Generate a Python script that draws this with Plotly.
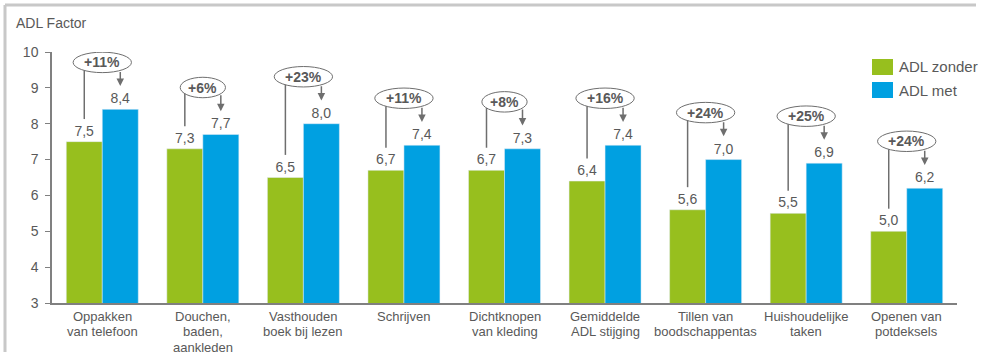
import plotly.graph_objects as go

# ---- data -------------------------------------------------------------
categories = [
    "Oppakken<br>van telefoon",
    "Douchen,<br>baden,<br>aankleden",
    "Vasthouden<br>boek bij lezen",
    "Schrijven",
    "Dichtknopen<br>van kleding",
    "Gemiddelde<br>ADL stijging",
    "Tillen van<br>boodschappentas",
    "Huishoudelijke<br>taken",
    "Openen van<br>potdeksels",
]
adl_zonder = [7.5, 7.3, 6.5, 6.7, 6.7, 6.4, 5.6, 5.5, 5.0]
adl_met = [8.4, 7.7, 8.0, 7.4, 7.3, 7.4, 7.0, 6.9, 6.2]
stijging = ["+11%", "+6%", "+23%", "+11%", "+8%", "+16%", "+24%", "+25%", "+24%"]
y_ticks = [3, 4, 5, 6, 7, 8, 9, 10]

# ---- style ------------------------------------------------------------
W, H = 981, 355
ML, MR, MT, MB = 52, 24, 52, 52
GREEN = "#97BF1E"
BLUE = "#00A0E1"
TEXT = "#595959"
AXIS = "#808080"
FRAME = "#C8C8C8"
FONT = "Liberation Sans, Arial, sans-serif"

x = list(range(len(categories)))
BAR_OFF = 0.179          # half distance between the two bar centres
Y_MIN, Y_MAX = y_ticks[0], y_ticks[-1]


def px_to_paper_x(px):
    return (px - ML) / (W - ML - MR)


def px_to_paper_y(py):
    return (H - MB - py) / (H - MT - MB)


def fmt(v):
    return f"{v:.1f}".replace(".", ",")


fig = go.Figure()
fig.add_trace(go.Bar(
    x=x, y=adl_zonder, name="ADL zonder", marker_color=GREEN,
    text=[fmt(v) for v in adl_zonder], textposition="outside",
    textfont=dict(size=14, color=TEXT, family=FONT), cliponaxis=False,
))
fig.add_trace(go.Bar(
    x=x, y=adl_met, name="ADL met", marker_color=BLUE,
    text=[fmt(v) for v in adl_met], textposition="outside",
    textfont=dict(size=14, color=TEXT, family=FONT), cliponaxis=False,
))

shapes = []
annotations = []

# percentage bubbles with connector line (left) and arrow (right)
B = 0.285  # half-height of bubble in data units
for i, (g, b, lbl) in enumerate(zip(adl_zonder, adl_met, stijging)):
    a = 0.29 if len(lbl) > 3 else 0.225
    cy = b + 1.31
    shapes.append(dict(type="circle", xref="x", yref="y",
                       x0=i - a, x1=i + a, y0=cy - B, y1=cy + B,
                       line=dict(color="#6E6E6E", width=1),
                       fillcolor="white", layer="above"))
    annotations.append(dict(x=i, y=cy, xref="x", yref="y", text=f"<b>{lbl}</b>",
                            showarrow=False,
                            font=dict(size=14, color=TEXT, family=FONT)))
    edge = B * (1 - (BAR_OFF / a) ** 2) ** 0.5
    # line from the green value up to the bubble
    shapes.append(dict(type="line", xref="x", yref="y",
                       x0=i - BAR_OFF, x1=i - BAR_OFF, y0=g + 0.63, y1=cy - edge,
                       line=dict(color="#6E6E6E", width=1.5), layer="above"))
    # arrow from the bubble down to the blue value
    annotations.append(dict(x=i + BAR_OFF, y=b + 0.65, xref="x", yref="y",
                            ax=i + BAR_OFF, ay=cy - edge, axref="x", ayref="y",
                            text="", showarrow=True, arrowhead=2, arrowsize=1,
                            arrowwidth=1.5, arrowcolor="#6E6E6E", standoff=0))

# category labels, one annotation per line for tight line spacing
LINE_H = 15.5
for i, cat in enumerate(categories):
    for k, line in enumerate(cat.split("<br>")):
        annotations.append(dict(x=i, y=px_to_paper_y(316 + k * LINE_H), xref="x", yref="paper",
                                xanchor="center", yanchor="middle", text=line, showarrow=False,
                                font=dict(size=13, color=TEXT, family=FONT)))

# axis title in the top-left corner
annotations.append(dict(x=px_to_paper_x(14), y=px_to_paper_y(23), xref="paper", yref="paper",
                        xanchor="left", yanchor="middle", text="ADL Factor", showarrow=False,
                        font=dict(size=14, color=TEXT, family=FONT)))

# legend: coloured swatches with labels
for k, (name, col) in enumerate([("ADL zonder", GREEN), ("ADL met", BLUE)]):
    top = 59 + k * 23
    shapes.append(dict(type="rect", xref="paper", yref="paper",
                       x0=px_to_paper_x(872), x1=px_to_paper_x(893),
                       y0=px_to_paper_y(top + 16), y1=px_to_paper_y(top),
                       fillcolor=col, line=dict(width=0)))
    annotations.append(dict(x=px_to_paper_x(897), y=px_to_paper_y(top + 8), xref="paper", yref="paper",
                            xanchor="left", yanchor="middle", text=name, showarrow=False,
                            font=dict(size=15, color=TEXT, family=FONT)))

# outer frame (top and left edge)
shapes.append(dict(type="line", xref="paper", yref="paper",
                   x0=px_to_paper_x(5), x1=px_to_paper_x(976),
                   y0=px_to_paper_y(5), y1=px_to_paper_y(5),
                   line=dict(color=FRAME, width=3)))
shapes.append(dict(type="line", xref="paper", yref="paper",
                   x0=px_to_paper_x(5), x1=px_to_paper_x(5),
                   y0=px_to_paper_y(5), y1=px_to_paper_y(352),
                   line=dict(color=FRAME, width=3)))

fig.update_layout(
    width=W, height=H,
    margin=dict(l=ML, r=MR, t=MT, b=MB),
    paper_bgcolor="white", plot_bgcolor="white",
    barmode="group", bargap=0.284, bargroupgap=0,
    showlegend=False,
    font=dict(family=FONT, color=TEXT),
    shapes=shapes, annotations=annotations,
    xaxis=dict(range=[-0.5, len(categories) - 0.5], tickvals=x, showticklabels=False,
               showline=True, linecolor=AXIS, linewidth=1.5, ticks="",
               showgrid=False, zeroline=False, automargin=False),
    yaxis=dict(range=[Y_MIN, Y_MAX], tickvals=y_ticks, ticks="outside", ticklen=5,
               tickcolor=AXIS, showline=True, linecolor=AXIS, linewidth=1.5,
               showgrid=False, zeroline=False, ticklabelstandoff=4, automargin=False,
               tickfont=dict(size=14, color=TEXT, family=FONT)),
)

fig.write_html("out.html")
